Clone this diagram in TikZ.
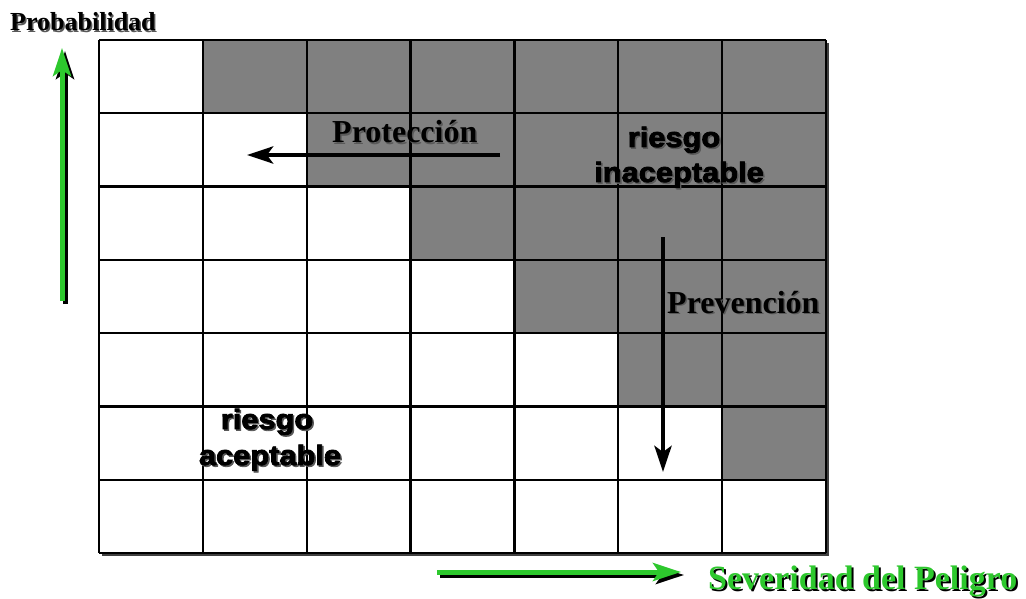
\documentclass[tikz,border=0pt]{standalone}
\usepackage{fontspec}
\setmainfont{Liberation Serif}
\newfontfamily\heavysans{Liberation Sans}[FakeStretch=1.1,FakeBold=3]
\usetikzlibrary{arrows.meta}
\definecolor{riskgray}{RGB}{128,128,128}
\definecolor{axisgreen}{RGB}{45,200,45}
\begin{document}
\begin{tikzpicture}[x=1pt,y=-1pt,
  gridline/.style={line width=2.2pt,black},
  serifbig/.style={inner sep=0pt,font=\fontsize{32}{36}\selectfont\bfseries},
  seriflabel/.style={inner sep=0pt,font=\fontsize{26}{30}\selectfont\bfseries},
  greenlabel/.style={inner sep=0pt,font=\fontsize{34}{38}\selectfont\bfseries},
  risklabel/.style={inner sep=0pt,font=\fontsize{28}{32}\selectfont\heavysans\bfseries},
  textshadow/.style={text=black!65},
  blackarrow/.style={line width=4.5pt,-{Stealth[length=26pt,width=17pt,inset=6pt]}},
  greenarrow/.style={line width=5pt,axisgreen,-{Stealth[length=28pt,width=18pt,inset=6pt]}},
  arrowshadow/.style={line width=5pt,black,transform canvas={xshift=3pt,yshift=-3pt},-{Stealth[length=28pt,width=18pt,inset=6pt]}}]
\useasboundingbox[fill=white] (0,0) rectangle (1026,599);
\def\cw{103.857}
\def\rh{73.286}
% grid shadow and background
\fill[black!75] (102,43) rectangle (829,556);
\fill[white] (99,40) rectangle (826,553);
% gray cells (unacceptable risk)
\foreach \r in {0,...,5}{
  \pgfmathtruncatemacro\s{\r+1}
  \foreach \c in {\s,...,6}{
    \fill[riskgray] (99+\c*\cw,40+\r*\rh) rectangle ++(\cw,\rh);
  }
}
% grid lines
\foreach \i in {0,...,7}{
  \draw[gridline] (99+\i*\cw,40) -- (99+\i*\cw,553);
  \draw[gridline] (99,40+\i*\rh) -- (826,40+\i*\rh);
}
% labels
\node[seriflabel,textshadow,anchor=base west] (probS) at (11.5,32.5) {Probabilidad};
\node[seriflabel,anchor=base west] (prob) at (10,31) {Probabilidad};
\node[serifbig,textshadow,anchor=base west] (protS) at (333.5,144.5) {Protección};
\node[serifbig,anchor=base west] (prot) at (332,143) {Protección};
\node[serifbig,textshadow,anchor=base west] (prevS) at (668.5,314.5) {Prevención};
\node[serifbig,anchor=base west] (prev) at (667,313) {Prevención};
\node[greenlabel,text=black,anchor=base west] (sevS) at (710,591) {Severidad del Peligro};
\node[greenlabel,text=axisgreen,anchor=base west] (sev) at (708,589) {Severidad del Peligro};
\node[risklabel,textshadow,anchor=base] (ri1S) at (675.5,148.5) {riesgo};
\node[risklabel,textshadow,anchor=base] (ri2S) at (680.5,183.5) {inaceptable};
\node[risklabel,textshadow,anchor=base] (ra1S) at (268.5,430.5) {riesgo};
\node[risklabel,textshadow,anchor=base] (ra2S) at (271.5,466.5) {aceptable};
\node[risklabel,anchor=base] (ri1) at (674,147) {riesgo};
\node[risklabel,anchor=base] (ri2) at (679,182) {inaceptable};
\node[risklabel,anchor=base] (ra1) at (267,429) {riesgo};
\node[risklabel,anchor=base] (ra2) at (270,465) {aceptable};
% arrows
\coordinate (probTail) at (62,301);
\coordinate (probTip) at (62,48);
\coordinate (sevTail) at (437,572);
\coordinate (sevTip) at (681,572);
\coordinate (protTail) at (500,155);
\coordinate (protTip) at (247,155);
\coordinate (prevTail) at (663,237);
\coordinate (prevTip) at (663,472);
\draw[arrowshadow] (probTail) -- (probTip);
\draw[greenarrow] (probTail) -- (probTip);
\draw[arrowshadow] (sevTail) -- (sevTip);
\draw[greenarrow] (sevTail) -- (sevTip);
\draw[blackarrow] (protTail) -- (protTip);
\draw[blackarrow] (prevTail) -- (prevTip);
\end{tikzpicture}
\end{document}
